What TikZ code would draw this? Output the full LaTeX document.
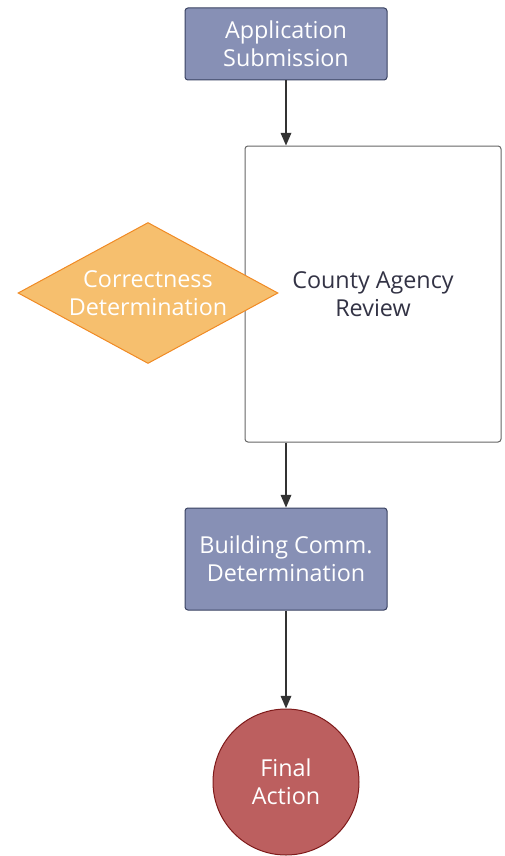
\documentclass[tikz,border=0pt]{standalone}
\usepackage{fontspec}
\setmainfont{Open Sans}
\usepackage{xcolor}
\usetikzlibrary{shapes.geometric,arrows.meta}

\definecolor{procfill}{HTML}{8790B5}
\definecolor{procline}{HTML}{3A4262}
\definecolor{decfill}{HTML}{F6BF6E}
\definecolor{decline}{HTML}{F08A24}
\definecolor{endfill}{HTML}{BC5F5F}
\definecolor{endline}{HTML}{7E1A1A}
\definecolor{arrowgray}{HTML}{333333}
\definecolor{darktext}{HTML}{333345}

\tikzset{
  procbox/.style={draw=procline, fill=procfill, rounded corners=2.2pt, line width=0.75pt,
    text=white, align=center, minimum width=151.5pt, font=\fontsize{17.5}{21}\selectfont},
  reviewbox/.style={draw=gray!80!black, fill=white, rounded corners=2.2pt, line width=0.75pt,
    text=darktext, align=center, minimum width=192pt, minimum height=222pt,
    font=\fontsize{17.5}{21}\selectfont},
  decision/.style={diamond, draw=decline, fill=decfill, line width=0.75pt, inner sep=0pt,
    shape aspect=1.84, minimum width=195pt, minimum height=105.75pt,
    text=white, align=center, font=\fontsize{17.5}{21}\selectfont},
  terminal/.style={circle, draw=endline, fill=endfill, line width=0.75pt, inner sep=0pt,
    minimum size=109.5pt, text=white, align=center, font=\fontsize{17.5}{21}\selectfont},
  flow/.style={-{Triangle[length=9.5pt,width=8pt]}, draw=arrowgray, line width=0.9pt}
}

\begin{document}
\begin{tikzpicture}[x=0.75pt,y=-0.75pt]
  \useasboundingbox (0,0) rectangle (505,856);

  % Main column of steps
  \node[procbox, minimum height=54pt] (app) at (286,44) {Application\\Submission};
  \node[reviewbox] (review) at (373,294) {County Agency\\Review};
  \node[procbox, minimum height=76.5pt] (building) at (286,559) {Building Comm.\\Determination};
  \node[terminal] (final) at (286,782) {Final\\Action};

  % Decision sits over the left edge of the review box
  \node[decision] (correct) at (148,293) {Correctness\\Determination};

  % Connectors
  \draw[flow] (app.south) -- (app.south |- review.north);
  \draw[flow] (review.south -| building.north) -- (building.north);
  \draw[flow] (building.south) -- (final.north);
\end{tikzpicture}
\end{document}
